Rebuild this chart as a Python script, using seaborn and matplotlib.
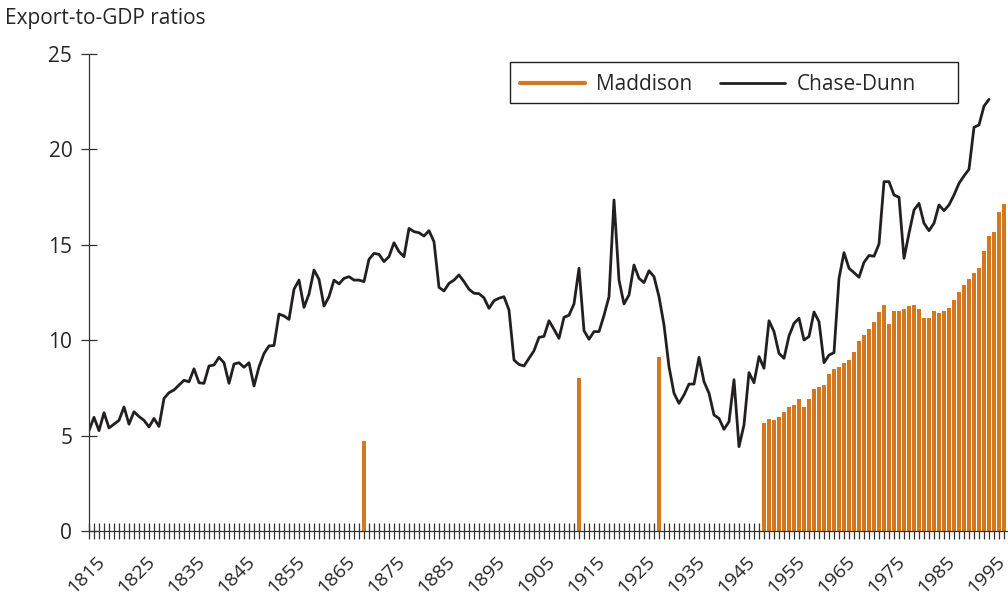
import matplotlib
matplotlib.use("Agg")
import matplotlib.pyplot as plt
import matplotlib.transforms as mtransforms
from matplotlib.lines import Line2D
from matplotlib.patches import Rectangle
import seaborn as sns
import pandas as pd

# Chase-Dunn export-to-GDP ratio, yearly 1815-1995
cd_years = list(range(1815, 1996))
cd_values = [
    5.26, 5.96, 5.26, 6.2, 5.4, 5.6, 5.8, 6.5, 5.6, 6.25,          # 1815-1824
    6.0, 5.8, 5.45, 5.9, 5.48, 6.95, 7.25, 7.39, 7.65, 7.9,        # 1825-1834
    7.82, 8.5, 7.77, 7.74, 8.65, 8.7, 9.1, 8.82, 7.74, 8.75,       # 1835-1844
    8.82, 8.58, 8.82, 7.6, 8.6, 9.3, 9.7, 9.72, 11.37, 11.27,      # 1845-1854
    11.09, 12.67, 13.15, 11.72, 12.42, 13.68, 13.19, 11.79, 12.28, 13.15,  # 1855-1864
    12.95, 13.24, 13.33, 13.15, 13.15, 13.07, 14.24, 14.55, 14.5, 14.12,   # 1865-1874
    14.38, 15.11, 14.64, 14.38, 15.86, 15.69, 15.63, 15.46, 15.74, 15.16,  # 1875-1884
    12.77, 12.58, 12.98, 13.15, 13.42, 13.07, 12.67, 12.46, 12.44, 12.22,  # 1885-1894
    11.67, 12.07, 12.2, 12.28, 11.58, 8.96, 8.73, 8.65, 9.05, 9.45,        # 1895-1904
    10.15, 10.2, 11.02, 10.57, 10.1, 11.2, 11.31, 11.9, 13.77, 10.5,       # 1905-1914
    10.05, 10.45, 10.45, 11.3, 12.28, 17.35, 13.15, 11.9, 12.37, 13.94,    # 1915-1924
    13.24, 13.02, 13.64, 13.33, 12.28, 10.8, 8.61, 7.22, 6.69, 7.13,       # 1925-1934
    7.7, 7.7, 9.1, 7.83, 7.22, 6.08, 5.9, 5.33, 5.73, 7.93,                # 1935-1944
    4.42, 5.56, 8.3, 7.77, 9.14, 8.53, 11.02, 10.45, 9.31, 9.05,           # 1945-1954
    10.22, 10.88, 11.15, 10.01, 10.19, 11.48, 10.97, 8.82, 9.22, 9.35,     # 1955-1964
    13.24, 14.59, 13.77, 13.54, 13.3, 14.08, 14.44, 14.4, 15.04, 18.31,    # 1965-1974
    18.31, 17.61, 17.49, 14.29, 15.6, 16.82, 17.17, 16.13, 15.74, 16.13,   # 1975-1984
    17.09, 16.79, 17.09, 17.61, 18.22, 18.61, 18.96, 21.16, 21.28, 22.27,  # 1985-1994
    22.62,                                                                 # 1995
]

# Maddison benchmark years and 1950-1998
mad_years = [1870, 1913, 1929] + list(range(1950, 1999))
mad_values = [
    4.7, 8.0, 9.1,
    5.64, 5.85, 5.82, 5.99, 6.24, 6.48, 6.59, 6.9, 6.52, 6.93,        # 1950-1959
    7.42, 7.53, 7.63, 8.21, 8.49, 8.6, 8.79, 8.94, 9.38, 9.97,        # 1960-1969
    10.29, 10.57, 10.94, 11.5, 11.84, 10.83, 11.55, 11.55, 11.62, 11.79,  # 1970-1979
    11.84, 11.62, 11.16, 11.16, 11.55, 11.44, 11.53, 11.67, 12.11, 12.53, # 1980-1989
    12.88, 13.19, 13.54, 13.77, 14.66, 15.46, 15.67, 16.7, 17.14,         # 1990-1998
]

orange = "#D4781F"
dark = "#231F20"
fs = 15

sns.set_style("ticks")
plt.rcParams["font.family"] = ["Open Sans", "DejaVu Sans"]

cd_df = pd.DataFrame({"year": cd_years, "ratio": cd_values})
mad_df = pd.DataFrame({"year": mad_years, "ratio": mad_values})

W, H = 1008, 606
fig = plt.figure(figsize=(W / 100, H / 100), dpi=100)
ax = fig.add_axes([89 / W, 75 / H, 1 - 89 / W, 477 / H])

sns.barplot(data=mad_df, x="year", y="ratio", native_scale=True, width=0.8,
            color=orange, saturation=1, errorbar=None, ax=ax, linewidth=0)
sns.lineplot(data=cd_df, x="year", y="ratio", color=dark, linewidth=2.0, ax=ax)

ax.set_xlim(1815, 1998.8)
ax.set_ylim(0, 25)
ax.set_xlabel("")
ax.set_ylabel("")

ax.set_xticks(range(1815, 1996, 10))
ax.set_xticks(range(1815, 1999), minor=True)
ax.set_xticklabels([str(y) for y in range(1815, 1996, 10)], rotation=45, ha="center")
ax.set_yticks(range(0, 26, 5))

ax.tick_params(axis="x", which="both", direction="inout", length=11, width=0.9,
               color="#333333", labelsize=14, pad=10)
ax.tick_params(axis="y", direction="inout", length=12, width=0.9,
               color="#333333", labelsize=fs, pad=6)

# nudge the rotated year labels a little to the left
shift = mtransforms.ScaledTranslation(-0.03, 0, fig.dpi_scale_trans)
for lab in ax.get_xticklabels():
    lab.set_transform(lab.get_transform() + shift)

sns.despine(ax=ax)
for side in ["left", "bottom"]:
    ax.spines[side].set_color("#333333")
    ax.spines[side].set_linewidth(0.9)

# legend: two entries in one row inside a wide box
handles = [Line2D([], [], color=orange, linewidth=3),
           Line2D([], [], color=dark, linewidth=2)]
leg = ax.legend(handles, ["Maddison", "Chase-Dunn"], ncol=2, loc="center left",
                bbox_to_anchor=(520 / W, 1 - 85 / H), bbox_transform=fig.transFigure,
                borderaxespad=0, borderpad=0, fontsize=fs, frameon=False,
                handlelength=3.1, columnspacing=1.35, handletextpad=0.55)
fig.patches.append(Rectangle((510 / W, 1 - 103 / H), 448 / W, 41 / H,
                             transform=fig.transFigure, fill=False,
                             edgecolor=dark, linewidth=1.0))

fig.text(5 / W, 1 - 8 / H, "Export-to-GDP ratios", fontsize=fs, va="top", ha="left")

fig.savefig("out.png", dpi=100)
